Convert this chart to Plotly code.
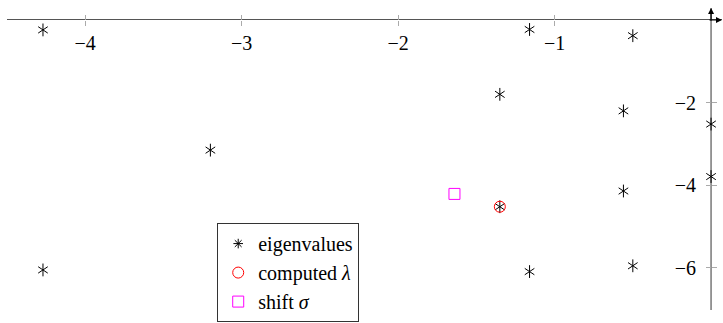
import plotly.graph_objects as go

eig_re = [-4.27, -3.20, -1.16, -0.50, -1.35, -0.56, 0.0, -4.27, 0.0, -0.56, -1.35, -1.16, -0.50]
eig_im = [-0.24, -3.15, -0.23, -0.38, -1.80, -2.20, -2.52, -6.05, -3.79, -4.14, -4.52, -6.09, -5.95]

lam_re = [-1.35]
lam_im = [-4.52]

shift_re = [-1.64]
shift_im = [-4.21]

x_ticks = [-4, -3, -2, -1]
y_ticks = [-6, -4, -2]

xr = [-4.5, 0.07]
yr = [-7.02, 0.29]

FONT = "Liberation Serif, DejaVu Serif, serif"
AX_COL = "#555555"
TICK_COL = "#aaaaaa"

fig = go.Figure()

# six-armed asterisk = y-up + y-down overlaid
fig.add_trace(go.Scatter(x=eig_re, y=eig_im, mode="markers", showlegend=False,
                         marker=dict(symbol="y-up-open", size=8, color="black",
                                     line=dict(color="black", width=1))))
fig.add_trace(go.Scatter(x=eig_re, y=eig_im, mode="markers", showlegend=False,
                         marker=dict(symbol="y-down-open", size=8, color="black",
                                     line=dict(color="black", width=1))))
# legend entry for the eigenvalues
fig.add_trace(go.Scatter(x=[None], y=[None], mode="markers", name="eigenvalues",
                         marker=dict(symbol="asterisk-open", size=8, color="black",
                                     line=dict(color="black", width=1))))
fig.add_trace(go.Scatter(x=lam_re, y=lam_im, mode="markers", name="computed <i>λ</i>",
                         marker=dict(symbol="circle-open", size=11, color="red",
                                     line=dict(color="red", width=1))))
fig.add_trace(go.Scatter(x=shift_re, y=shift_im, mode="markers", name="shift <i>σ</i>",
                         marker=dict(symbol="square-open", size=11, color="magenta",
                                     line=dict(color="magenta", width=1))))
# dummy on the overlay axes so the crossing ticks get drawn
fig.add_trace(go.Scatter(x=[None], y=[None], xaxis="x2", yaxis="y2", showlegend=False, hoverinfo="skip"))

px0 = (0 - xr[0]) / (xr[1] - xr[0])
py0 = (0 - yr[0]) / (yr[1] - yr[0])

fig.update_layout(
    width=723, height=323,
    margin=dict(l=7, r=1, t=8, b=13),
    plot_bgcolor="white", paper_bgcolor="white",
    font=dict(family=FONT, size=20, color="black"),
    showlegend=True,
    legend=dict(x=0.294, y=-0.04, xanchor="left", yanchor="bottom",
                bordercolor="#333333", borderwidth=1, bgcolor="white",
                font=dict(family=FONT, size=20)),
    xaxis=dict(range=xr, anchor="free", position=py0, side="bottom",
               tickvals=x_ticks, ticks="outside", ticklen=5, tickcolor=TICK_COL,
               showline=False, showgrid=False, zeroline=False,
               ticklabelstandoff=0),
    yaxis=dict(range=yr, anchor="free", position=px0, side="left",
               tickvals=y_ticks, ticks="outside", ticklen=5, tickcolor=TICK_COL,
               showline=False, showgrid=False,
               zeroline=True, zerolinecolor=AX_COL, zerolinewidth=1.2,
               ticklabelstandoff=6),
    xaxis2=dict(range=xr, overlaying="x", anchor="free", position=py0, side="top",
                tickvals=x_ticks, ticks="outside", ticklen=5, tickcolor=TICK_COL,
                showticklabels=False, showline=False, showgrid=False, zeroline=False),
    yaxis2=dict(range=yr, overlaying="y", anchor="free", position=px0, side="right",
                tickvals=y_ticks, ticks="outside", ticklen=5, tickcolor=TICK_COL,
                showticklabels=False, showline=False, showgrid=False, zeroline=False),
)

# vertical axis line (imaginary axis) through x = 0
fig.add_shape(type="line", xref="x", yref="y", x0=0, x1=0, y0=yr[0], y1=yr[1],
              line=dict(color=AX_COL, width=1.2), layer="below")

# arrow heads at the ends of the axes
fig.add_annotation(x=xr[1], y=0, ax=-14, ay=0, showarrow=True, arrowhead=2,
                   arrowsize=1, arrowwidth=1.2, arrowcolor="black", text="")
fig.add_annotation(x=0, y=yr[1], ax=0, ay=14, showarrow=True, arrowhead=2,
                   arrowsize=1, arrowwidth=1.2, arrowcolor="black", text="")

# drop the default page margin so the figure fills the window without scrollbars
fig.write_html("out.html", config={"displayModeBar": False},
               post_script="document.body.style.margin = '0';")
